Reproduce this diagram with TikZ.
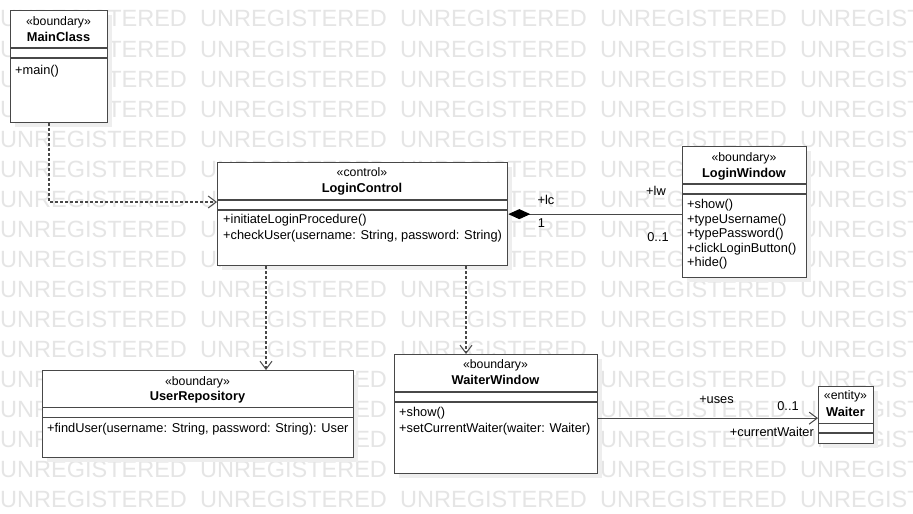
\documentclass[tikz,border=0pt]{standalone}
\usepackage{fontspec}
\setmainfont{Liberation Sans}
\usetikzlibrary{arrows.meta}
\definecolor{wm}{RGB}{229,229,229}
\definecolor{ln}{RGB}{72,72,72}
\definecolor{shd}{RGB}{238,238,238}
\tikzset{
  cls/.style={draw=ln, line width=1.3pt, fill=white, inner sep=0pt, anchor=north west},
  divl/.style={draw=ln, line width=1.3pt},
  txt/.style={inner sep=0pt, anchor=base west, font=\fontsize{12.8}{15}\selectfont},
  ctxt/.style={inner sep=0pt, anchor=base, font=\fontsize{12.8}{15}\selectfont},
  rtxt/.style={inner sep=0pt, anchor=base east, font=\fontsize{12.8}{15}\selectfont},
  ster/.style={inner sep=0pt, anchor=base, font=\fontsize{12.3}{14}\selectfont},
  cname/.style={inner sep=0pt, anchor=base, font=\fontsize{12.8}{15}\selectfont\bfseries},
  wmk/.style={inner sep=0pt, anchor=base west, text=wm, font=\fontsize{23.5}{28}\selectfont},
  dep/.style={draw=ln, line width=1.2pt, dash pattern=on 3pt off 2pt,
    -{Straight Barb[length=8pt,width=12pt,line width=1pt]}},
  assoc/.style={draw=ln, line width=1.2pt,
    -{Straight Barb[length=8pt,width=12pt,line width=1pt]}},
  comp/.style={draw=ln, line width=1.2pt,
    {Diamond[length=22pt,width=10pt,fill=black,color=black]}-},
}
% name, x1, y1, x2, y2, first divider, second divider
\newcommand{\umlbox}[7]{%
  \fill[shd] (#2+5,#3+5) rectangle (#4+5,#5+5);
  \node[cls, minimum width={(#4-#2)*1pt}, minimum height={(#5-#3)*1pt}] (#1) at (#2,#3) {};
  \draw[divl] (#2,#6) -- (#4,#6);
  \draw[divl] (#2,#7) -- (#4,#7);
}
\begin{document}
\begin{tikzpicture}[x=1pt,y=-1pt]
\useasboundingbox (0,0) rectangle (913,514);
\fill[white] (0,0) rectangle (913,514);
\begin{scope}
\clip (0,0) rectangle (913,514);
\foreach \r in {0,...,16}{
  \foreach \c in {0,...,4}{
    \node[wmk] (wm-\r-\c) at (200*\c, 27+30*\r) {UNREGISTERED};
  }
}
\end{scope}

% MainClass
\umlbox{mc}{10}{10}{107}{122}{48}{58}
\node[ster] (mcs) at (58.5,25) {«boundary»};
\node[cname] (mcn) at (58.5,41) {MainClass};
\node[txt] (mcm1) at (15,74) {+main()};

% LoginControl
\umlbox{lc}{217}{162}{507}{265}{200}{210}
\node[ster] (lcs) at (362,176) {«control»};
\node[cname] (lcn) at (362,192) {LoginControl};
\node[txt] (lcm1) at (223,223) {+initiateLoginProcedure()};
\node[txt] (lcm2) at (223,239) {+checkUser(username: String, password: String)};

% LoginWindow
\umlbox{lw}{682}{146}{806}{277}{184}{194}
\node[ster] (lws) at (744,161) {«boundary»};
\node[cname] (lwn) at (744,177) {LoginWindow};
\node[txt] (lwm1) at (687,208) {+show()};
\node[txt] (lwm2) at (687,223) {+typeUsername()};
\node[txt] (lwm3) at (687,237.5) {+typePassword()};
\node[txt] (lwm4) at (687,252) {+clickLoginButton()};
\node[txt] (lwm5) at (687,266.5) {+hide()};

% UserRepository
\umlbox{ur}{42}{370}{353}{457}{407.5}{417.5}
\node[ster] (urs) at (197.5,385) {«boundary»};
\node[cname] (urn) at (197.5,400.5) {UserRepository};
\node[txt] (urm1) at (47,432) {+findUser(username: String, password: String): User};

% WaiterWindow
\umlbox{ww}{394}{354}{597}{473}{392}{402}
\node[ster] (wws) at (495.5,368) {«boundary»};
\node[cname] (wwn) at (495.5,384) {WaiterWindow};
\node[txt] (wwm1) at (399,416) {+show()};
\node[txt] (wwm2) at (399,432) {+setCurrentWaiter(waiter: Waiter)};

% Waiter
\umlbox{wt}{818}{386}{873}{443}{423.5}{433}
\node[ster] (wts) at (845.5,399.5) {«entity»};
\node[cname] (wtn) at (845.5,416) {Waiter};

% connectors
\draw[dep] ([xshift=39pt]mc.south west) |- ([yshift=-40pt]lc.north west);
\draw[dep] ([xshift=49pt]lc.south west) -- ([xshift=49pt]lc.south west |- ur.north);
\draw[dep] ([xshift=249pt]lc.south west) -- ([xshift=249pt]lc.south west |- ww.north);
\draw[comp] (lc.east) -- (lc.east -| lw.west);
\draw[assoc] ([yshift=-4pt]ww.east) -- ([yshift=-4pt]ww.east -| wt.west);

% labels
\node[ctxt] (llc) at (546,204) {+lc};
\node[ctxt] (l1) at (541.5,227) {1};
\node[ctxt] (llw) at (656,195) {+lw};
\node[ctxt] (l01a) at (658,241) {0..1};
\node[ctxt] (luses) at (716.5,403) {+uses};
\node[ctxt] (l01b) at (788,410.5) {0..1};
\node[rtxt] (lcw) at (814,436) {+currentWaiter};
\end{tikzpicture}
\end{document}
